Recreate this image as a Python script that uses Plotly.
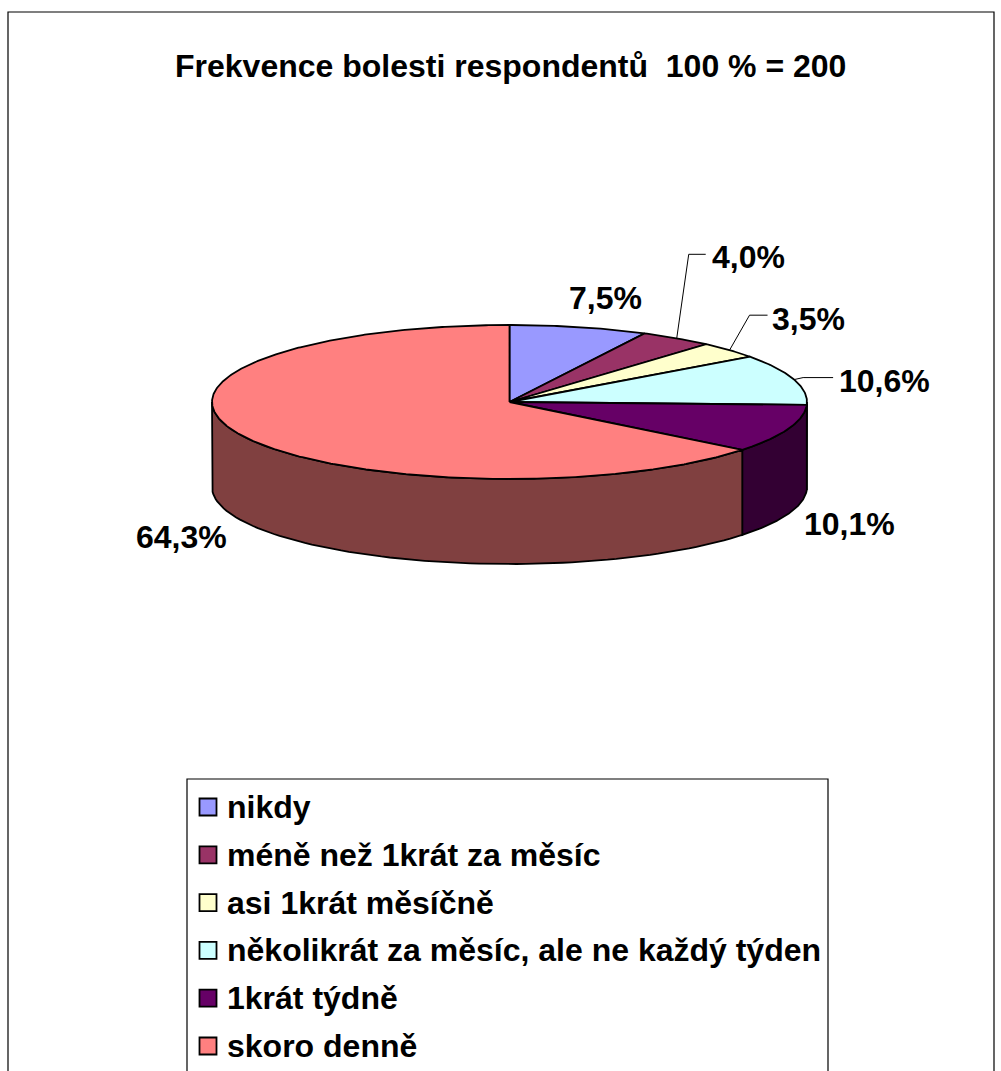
import numpy as np
import plotly.graph_objects as go

# ---------------- data ----------------
categories = ["nikdy", "méně než 1krát za měsíc", "asi 1krát měsíčně",
              "několikrát za měsíc, ale ne každý týden", "1krát týdně", "skoro denně"]
values = [7.5, 4.0, 3.5, 10.6, 10.1, 64.3]
value_labels = ["7,5%", "4,0%", "3,5%", "10,6%", "10,1%", "64,3%"]
title_text = "Frekvence bolesti respondentů  100 % = 200"

# ---------------- styles ----------------
colors = ["#9999FF", "#993366", "#FFFFCC", "#CCFFFF", "#660066", "#FF8080"]
side_colors = ["#4C4C80", "#4C1933", "#808066", "#668080", "#330033", "#804040"]
FONT = "Liberation Sans, Arial, sans-serif"
FS = 32

W, H = 1001, 1071
CX, CY, RX, RY, DEPTH = 509.5, 402.0, 297.5, 77.0, 85.0

# label offsets from the slice's mid-angle rim point (styling), and leader bends
label_offsets = [(27, -29), (72, -81), (79, -31), (90, 1), (61, 95), (-60, 102)]
leaders = [None, [(12, -84), (29, -84)], [(20, -35), (38, -35)], [(9, -2), (39, -2)], None, None]


def pt(theta_deg, dz=0.0):
    t = np.radians(theta_deg)
    return CX + RX * np.sin(t), CY - RY * np.cos(t) + dz


fig = go.Figure()

total = sum(values)
cum = np.concatenate([[0], np.cumsum(values)]) / total * 360.0

# side walls (front half visible: 90..270 deg)
for i in range(len(values)):
    a, b = cum[i], cum[i + 1]
    lo, hi = max(a, 90.0), min(b, 270.0)
    if lo < hi:
        th = np.linspace(lo, hi, 80)
        xt, yt = pt(th)
        xb, yb = pt(th[::-1], DEPTH)
        xs = np.concatenate([xt, xb, xt[:1]])
        ys = np.concatenate([yt, yb, yt[:1]])
        fig.add_trace(go.Scatter(x=xs, y=ys, mode="lines", fill="toself",
                                 fillcolor=side_colors[i],
                                 line=dict(color="black", width=1.8),
                                 hoverinfo="skip", showlegend=False))

# top faces
for i in range(len(values)):
    a, b = cum[i], cum[i + 1]
    th = np.linspace(a, b, max(int((b - a) * 2), 8))
    xa, ya = pt(th)
    xs = np.concatenate([[CX], xa, [CX]])
    ys = np.concatenate([[CY], ya, [CY]])
    fig.add_trace(go.Scatter(x=xs, y=ys, mode="lines", fill="toself",
                             fillcolor=colors[i],
                             line=dict(color="black", width=1.8),
                             name=categories[i], hoverinfo="name+text",
                             text=value_labels[i], showlegend=False))

annotations = []
# data labels and leader lines
for i in range(len(values)):
    mid = (cum[i] + cum[i + 1]) / 2
    ax, ay = pt(mid)
    dx, dy = label_offsets[i]
    annotations.append(dict(x=ax + dx, y=ay + dy, xref="x", yref="y",
                            text="<b>%s</b>" % value_labels[i], showarrow=False,
                            xanchor="center", yanchor="middle",
                            font=dict(family=FONT, size=FS, color="black")))
    if leaders[i]:
        lx = [ax] + [ax + p[0] for p in leaders[i]]
        ly = [ay] + [ay + p[1] for p in leaders[i]]
        fig.add_trace(go.Scatter(x=lx, y=ly, mode="lines",
                                 line=dict(color="black", width=1),
                                 hoverinfo="skip", showlegend=False))

# title
annotations.append(dict(x=510, y=66, xref="x", yref="y",
                        text="<b>%s</b>" % title_text.replace("  ", " \u00a0"),
                        showarrow=False, xanchor="center", yanchor="middle",
                        font=dict(family=FONT, size=FS, color="black")))

# legend (manual, Excel-like)
LEG_X, LEG_Y0, LEG_DY = 208, 807, 47.8
leg_y = [LEG_Y0 + k * LEG_DY for k in range(len(categories))]
for i, c in enumerate(categories):
    fig.add_trace(go.Scatter(x=[LEG_X], y=[leg_y[i]], mode="markers",
                             marker=dict(symbol="square", size=17, color=colors[i],
                                         line=dict(color="black", width=1.8)),
                             hoverinfo="skip", showlegend=False))
    annotations.append(dict(x=LEG_X + 17, y=leg_y[i], xref="x", yref="y",
                            text="<b>%s</b>" % c, showarrow=False,
                            xanchor="left", yanchor="middle",
                            font=dict(family=FONT, size=FS, color="black")))

shapes = [
    dict(type="rect", xref="x", yref="y", x0=8, y0=12, x1=994, y1=1100,
         line=dict(color="black", width=1.2), fillcolor="rgba(0,0,0,0)", layer="below"),
    dict(type="rect", xref="x", yref="y", x0=187, y0=779, x1=828, y1=1100,
         line=dict(color="black", width=1.2), fillcolor="rgba(0,0,0,0)", layer="below"),
]

fig.update_layout(
    width=W, height=H, autosize=False,
    margin=dict(l=0, r=0, t=0, b=0),
    paper_bgcolor="white", plot_bgcolor="white",
    xaxis=dict(range=[0, W], visible=False, fixedrange=True),
    yaxis=dict(range=[H, 0], visible=False, fixedrange=True),
    annotations=annotations, shapes=shapes, showlegend=False,
)

fig.write_html("out.html")
